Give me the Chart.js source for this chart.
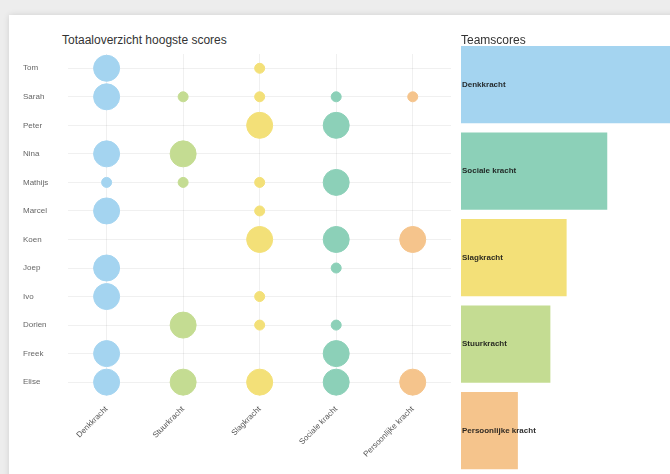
<!DOCTYPE html>
<html>
<head>
<meta charset="utf-8">
<script src="https://cdn.jsdelivr.net/npm/chart.js@4/dist/chart.umd.min.js"></script>
<style>
  html, body { margin: 0; padding: 0; }
  body { width: 670px; height: 474px; overflow: hidden; background: #ededed; position: relative; font-family: "Liberation Sans", Arial, sans-serif; }
  .card { position: absolute; left: 9px; top: 15px; width: 760px; height: 520px; background: #fff; box-shadow: 0 0 6px rgba(0,0,0,0.12); }
  .title { position: absolute; left: 62px; top: 33px; font-size: 12px; color: #333; }
  #bubbles { position: absolute; left: 10px; top: 15px; }
  #teams { position: absolute; left: 461px; top: 15px; }
</style>
</head>
<body>
<div class="card"></div>
<div class="title">Totaaloverzicht hoogste scores</div>
<canvas id="bubbles" width="455" height="459"></canvas>
<canvas id="teams" width="260" height="459"></canvas>
<script>
Chart.defaults.font.family = '"Liberation Sans", Arial, sans-serif';

// people (rows) and strengths (columns)
const names = ['Tom', 'Sarah', 'Peter', 'Nina', 'Mathijs', 'Marcel', 'Koen', 'Joep', 'Ivo', 'Dorien', 'Freek', 'Elise'];
const strengths = ['Denkkracht', 'Stuurkracht', 'Slagkracht', 'Sociale kracht', 'Persoonlijke kracht'];

// score per person for each strength (0 = geen, 1 = laag, 3 = hoog)
const denkkracht      = [3, 3, 0, 3, 1, 3, 0, 3, 3, 0, 3, 3];
const stuurkracht     = [0, 1, 0, 3, 1, 0, 0, 0, 0, 3, 0, 3];
const slagkracht      = [1, 1, 3, 0, 1, 1, 3, 0, 1, 1, 0, 3];
const socialeKracht   = [0, 1, 3, 0, 3, 0, 3, 1, 0, 1, 3, 3];
const persoonlijk     = [0, 1, 0, 0, 0, 0, 3, 0, 0, 0, 0, 3];

// team totals, order as shown in the bar chart
const teamLabels = ['Denkkracht', 'Sociale kracht', 'Slagkracht', 'Stuurkracht', 'Persoonlijke kracht'];
const teamScores = [30, 18, 13, 11, 7];

const colors = {
  'Denkkracht': 'rgb(164,212,240)',
  'Stuurkracht': 'rgb(196,220,146)',
  'Slagkracht': 'rgb(243,224,120)',
  'Sociale kracht': 'rgb(140,208,184)',
  'Persoonlijke kracht': 'rgb(245,196,140)'
};

const scoreSets = [denkkracht, stuurkracht, slagkracht, socialeKracht, persoonlijk];
const radiusFor = score => 1 + score * 4;

const bubbleSets = strengths.map((s, i) => ({
  label: s,
  data: names
    .map((n, j) => ({ x: s, y: n, score: scoreSets[i][j] }))
    .filter(p => p.score > 0)
    .map(p => ({ x: p.x, y: p.y, r: radiusFor(p.score) })),
  backgroundColor: colors[s],
  borderColor: colors[s],
  borderWidth: 1
}));

new Chart(document.getElementById('bubbles'), {
  type: 'bubble',
  data: { datasets: bubbleSets },
  options: {
    responsive: false,
    animation: false,
    layout: { padding: { top: 39, left: 13, right: 0, bottom: 7 } },
    plugins: { legend: { display: false }, tooltip: { enabled: false } },
    scales: {
      x: {
        type: 'category',
        labels: strengths,
        offset: true,
        grid: { color: 'rgba(0,0,0,0.06)', drawTicks: false },
        border: { display: false },
        ticks: { minRotation: 45, maxRotation: 45, padding: 8, color: '#555', font: { size: 8 } }
      },
      y: {
        type: 'category',
        labels: names,
        offset: true,
        grid: { color: 'rgba(0,0,0,0.06)', drawTicks: false },
        border: { display: false },
        ticks: { crossAlign: 'far', padding: 10, color: '#666', font: { size: 8 } }
      }
    }
  }
});

const barLabels = {
  id: 'barLabels',
  afterDatasetsDraw(chart) {
    const ctx = chart.ctx;
    const meta = chart.getDatasetMeta(0);
    ctx.save();
    ctx.font = 'bold 8px "Liberation Sans", Arial, sans-serif';
    ctx.fillStyle = 'rgba(20,20,20,0.9)';
    ctx.textBaseline = 'middle';
    meta.data.forEach((bar, i) => {
      ctx.fillText(chart.data.labels[i], bar.base + 1, bar.y);
    });
    ctx.restore();
  }
};

new Chart(document.getElementById('teams'), {
  type: 'bar',
  data: {
    labels: teamLabels,
    datasets: [{
      data: teamScores,
      backgroundColor: teamLabels.map(l => colors[l]),
      barPercentage: 0.95,
      categoryPercentage: 0.94
    }]
  },
  options: {
    indexAxis: 'y',
    responsive: false,
    animation: false,
    layout: { padding: 0 },
    plugins: {
      legend: { display: false },
      tooltip: { enabled: false },
      title: {
        display: true,
        text: 'Teamscores',
        align: 'start',
        color: '#333',
        font: { size: 12, weight: 'normal' },
        padding: { top: 18, bottom: -6 }
      }
    },
    scales: {
      x: { display: false, min: 0, max: 32 },
      y: { display: false }
    }
  },
  plugins: [barLabels]
});
</script>
</body>
</html>
